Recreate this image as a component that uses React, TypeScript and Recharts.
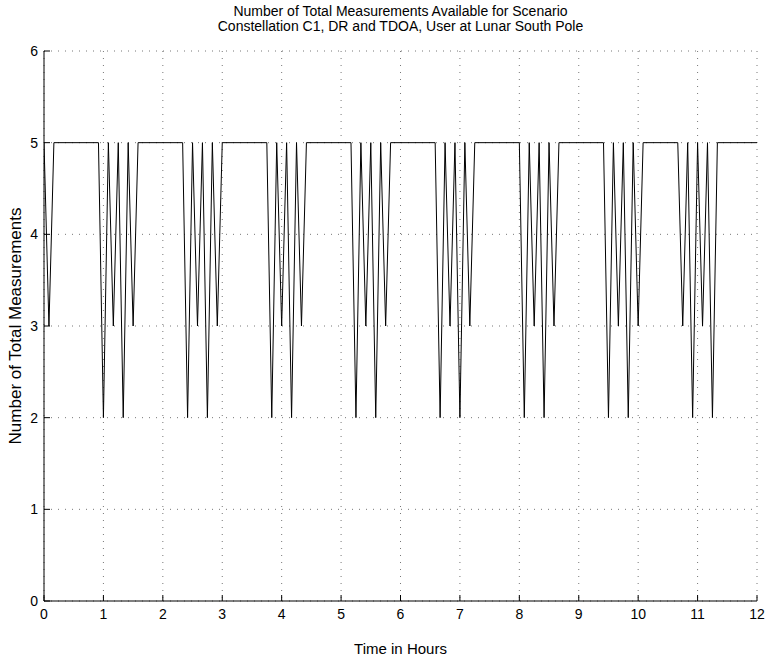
import React from 'react';
import { LineChart, Line, XAxis, YAxis, CartesianGrid, Label } from 'recharts';

// Sample times (minutes after start) where the trace changes direction
const timeMinutes = [
  0, 5, 10, 55, 60, 65, 70, 75, 80, 85, 90, 95,
  140, 145, 150, 155, 160, 165, 170, 175, 180,
  225, 230, 235, 240, 245, 250, 255, 260, 265,
  310, 315, 320, 325, 330, 335, 340, 345, 350,
  395, 400, 405, 410, 415, 420, 425, 430, 435,
  480, 485, 490, 495, 500, 505, 510, 515, 520,
  565, 570, 575, 580, 585, 590, 595, 600, 605,
  640, 645, 650, 655, 660, 665, 670, 675, 680,
  720,
];

// Number of total measurements at those times
const measurementCount = [
  5, 3, 5, 5, 2, 5, 3, 5, 2, 5, 3, 5,
  5, 2, 5, 3, 5, 2, 5, 3, 5,
  5, 2, 5, 3, 5, 2, 5, 3, 5,
  5, 2, 5, 3, 5, 2, 5, 3, 5,
  5, 2, 5, 3, 5, 2, 5, 3, 5,
  5, 2, 5, 3, 5, 2, 5, 3, 5,
  5, 2, 5, 3, 5, 2, 5, 3, 5,
  5, 3, 5, 2, 5, 3, 5, 2, 5,
  5,
];

const xTicks = [0, 1, 2, 3, 4, 5, 6, 7, 8, 9, 10, 11, 12];
const yTicks = [0, 1, 2, 3, 4, 5, 6];

const titleLines = [
  'Number of Total Measurements Available for Scenario',
  'Constellation C1, DR and TDOA, User at Lunar South Pole',
];
const xLabel = 'Time in Hours';
const yLabel = 'Number of Total Measurements';

const data = timeMinutes.map((m, i) => ({ t: m / 60, n: measurementCount[i] }));

const FONT = '"Liberation Sans", Arial, Helvetica, sans-serif';

export default function App() {
  return (
    <div
      style={{
        position: 'absolute',
        left: 0,
        top: 0,
        width: 768,
        height: 657,
        background: '#fff',
        fontFamily: FONT,
      }}
    >
      <div
        style={{
          position: 'absolute',
          left: 44,
          width: 713,
          top: 4,
          textAlign: 'center',
          fontSize: 14,
          lineHeight: '15px',
          color: '#000',
        }}
      >
        <div>{titleLines[0]}</div>
        <div>{titleLines[1]}</div>
      </div>
      <LineChart
        width={768}
        height={657}
        data={data}
        margin={{ top: 51, right: 11, bottom: 0, left: 0 }}
        style={{ fontFamily: FONT }}
      >
        <CartesianGrid stroke="#777" strokeDasharray="1 6" />
        <XAxis
          dataKey="t"
          type="number"
          domain={[0, 12]}
          ticks={xTicks}
          interval={0}
          allowDataOverflow
          height={56}
          tickSize={-6}
          tickMargin={14}
          stroke="#000"
          tick={{ fill: '#000', fontSize: 14 }}
        >
          <Label value={xLabel} position="insideBottom" offset={3} fill="#000" fontSize={15} />
        </XAxis>
        <XAxis
          xAxisId="top"
          orientation="top"
          type="number"
          domain={[0, 12]}
          ticks={xTicks}
          interval={0}
          allowDataOverflow
          height={0}
          tickSize={-6}
          tick={false}
          stroke="#000"
        />
        <YAxis
          type="number"
          domain={[0, 6]}
          ticks={yTicks}
          interval={0}
          allowDataOverflow
          width={44}
          tickSize={-6}
          tickMargin={12}
          stroke="#000"
          tick={{ fill: '#000', fontSize: 14 }}
        >
          <Label
            value={yLabel}
            angle={-90}
            position="insideLeft"
            offset={15}
            fill="#000"
            fontSize={17}
            style={{ textAnchor: 'middle' }}
          />
        </YAxis>
        <YAxis
          yAxisId="right"
          orientation="right"
          type="number"
          domain={[0, 6]}
          ticks={yTicks}
          interval={0}
          allowDataOverflow
          width={0}
          tickSize={-6}
          tick={false}
          stroke="#000"
        />
        <Line
          dataKey="n"
          type="linear"
          stroke="#000"
          strokeWidth={1}
          dot={false}
          activeDot={false}
          isAnimationActive={false}
        />
      </LineChart>
    </div>
  );
}
